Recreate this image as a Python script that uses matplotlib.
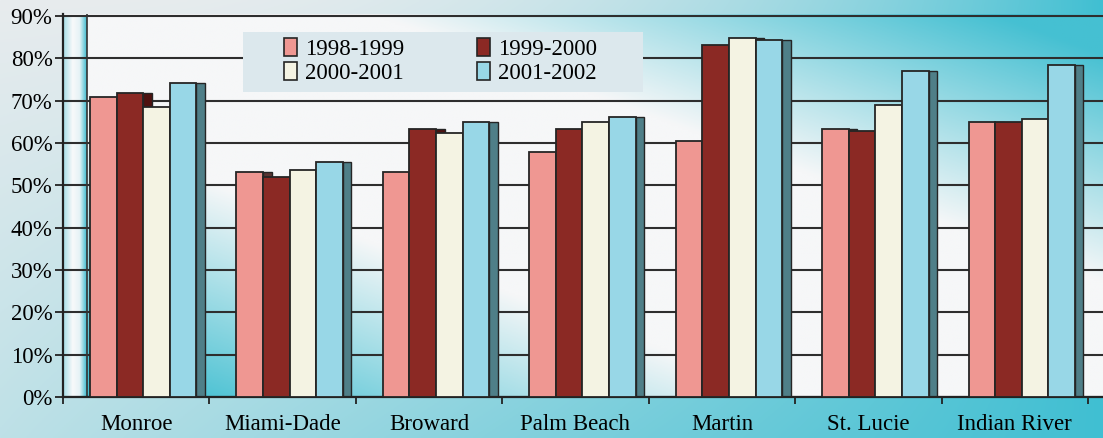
import matplotlib.pyplot as plt
import numpy as np
from matplotlib.patches import Patch, Rectangle
from matplotlib.colors import to_rgb

plt.rcParams['font.family'] = ['Liberation Serif', 'DejaVu Serif']

counties = ['Monroe', 'Miami-Dade', 'Broward', 'Palm Beach', 'Martin', 'St. Lucie', 'Indian River']
years = ['1998-1999', '1999-2000', '2000-2001', '2001-2002']
y1998 = [70.8, 53.1, 53.1, 57.8, 60.4, 63.3, 64.9]
y1999 = [71.9, 52.0, 63.4, 63.4, 83.2, 62.8, 64.9]
y2000 = [68.5, 53.7, 62.3, 65.0, 84.8, 69.0, 65.6]
y2001 = [74.1, 55.4, 65.0, 66.2, 84.3, 76.9, 78.5]
series = [y1998, y1999, y2000, y2001]

fills = ['#ef9792', '#8b2924', '#f4f3e3', '#98d7e7']
sides = ['#5a3432', '#4e1210', '#2c2c26', '#4f7f88']
edge = '#252525'

W, H = 1103, 438
fig = plt.figure(figsize=(W / 100, H / 100), dpi=100)


def blend(c0, c1, t):
    c0 = np.array(to_rgb(c0))
    c1 = np.array(to_rgb(c1))
    return c0 + (c1 - c0) * t[..., None]


# page background: grey on the left going to cyan on the right
bg = fig.add_axes([0, 0, 1, 1], zorder=-3)
bg.axis('off')
X, Yd = np.meshgrid(np.linspace(0, 1, 500), np.linspace(0, 1, 200))
t = (1 - Yd) * X ** 2.5 + Yd * (0.25 + 0.75 * X)
bg.imshow(blend('#e8ecee', '#40bfd2', np.clip(t, 0, 1)), extent=[0, 1, 0, 1],
          aspect='auto', origin='upper')

# plot area
x0, x_end, y0, y90 = 63, 1088, 397, 16
cat_w = (x_end - x0) / 7
ytop = 90.4
ax_h = (y0 - y90) * ytop / 90
pos = [x0 / W, (H - y0) / H, (W - x0) / W, ax_h / H]
xmax = (W - x0) / cat_w

wall = fig.add_axes(pos, zorder=-2)
wall.axis('off')
wall.set_xlim(0, 1)
wall.set_ylim(0, 1)
Xa, Ya = np.meshgrid(np.linspace(0, 1, 500), np.linspace(0, 1, 200))
s = np.clip((np.abs(Xa + Ya - 1) - 0.3) / 0.6, 0, 1)
wall.imshow(blend('#f6f7f8', '#45c0d2', s), extent=[0, 1, 0, 1],
            aspect='auto', origin='lower')
# left side wall strip
strip_w = 24 / (W - x0)
u = np.linspace(0, 1, 60)
prof = np.interp(u, [0, 0.4, 0.7, 1], [0.45, 0.0, 0.1, 1.0])
wall.imshow(blend('#f8f9fa', '#3fbcd0', np.tile(prof, (10, 1))),
            extent=[0, strip_w, 0, 90 / ytop], aspect='auto', origin='lower')

ax = fig.add_axes(pos)
ax.set_facecolor('none')
ax.set_xlim(0, xmax)
ax.set_ylim(0, ytop)

off = 27 / cat_w
bw = 26.6 / cat_w
sw = 8.5 / cat_w
idx = np.arange(len(counties))
for k, vals in enumerate(series):
    xs = idx + off + k * bw
    ax.bar(xs + bw, vals, width=sw, align='edge', color=sides[k],
           edgecolor=edge, linewidth=1.0, zorder=2)
    ax.bar(xs, vals, width=bw, align='edge', color=fills[k],
           edgecolor=edge, linewidth=1.3, zorder=3)

ax.set_yticks(range(0, 91, 10))
ax.yaxis.set_major_formatter('{x:.0f}%')
ax.grid(axis='y', color='#2e2e2e', linewidth=1.5)
ax.set_axisbelow(True)
ax.axvline(strip_w * xmax, color='#333333', linewidth=1.2, zorder=1)

ax.set_xticks(np.arange(8))
ax.set_xticklabels([])
ax.set_xticks(idx + 0.5, minor=True)
ax.set_xticklabels(counties, minor=True)
ax.tick_params(axis='x', which='major', length=5, width=1.3, color='#222222')
ax.tick_params(axis='x', which='minor', length=0, pad=12, labelsize=16.5)
ax.tick_params(axis='y', length=6, width=1.3, color='#222222', pad=1.5, labelsize=16.5)

for side in ['top', 'right']:
    ax.spines[side].set_visible(False)
for side in ['left', 'bottom']:
    ax.spines[side].set_color('#222222')
    ax.spines[side].set_linewidth(1.6)

# legend box
fig.add_artist(Rectangle((243 / W, 1 - 92 / H), 400 / W, 60 / H,
                         transform=fig.transFigure, facecolor='#dce8ed',
                         edgecolor='none', zorder=1))
handles = [Patch(facecolor=c, edgecolor=edge, linewidth=1.2) for c in fills]
order = [0, 2, 1, 3]
fig.legend([handles[i] for i in order], [years[i] for i in order], ncol=2,
           loc='upper left', bbox_to_anchor=(284 / W, 1 - 38 / H), frameon=False,
           fontsize=16.5, handlelength=0.55, handleheight=0.8, handletextpad=0.35,
           columnspacing=3.2, labelspacing=0.1, borderpad=0, borderaxespad=0)

fig.savefig('out.png', dpi=100)
